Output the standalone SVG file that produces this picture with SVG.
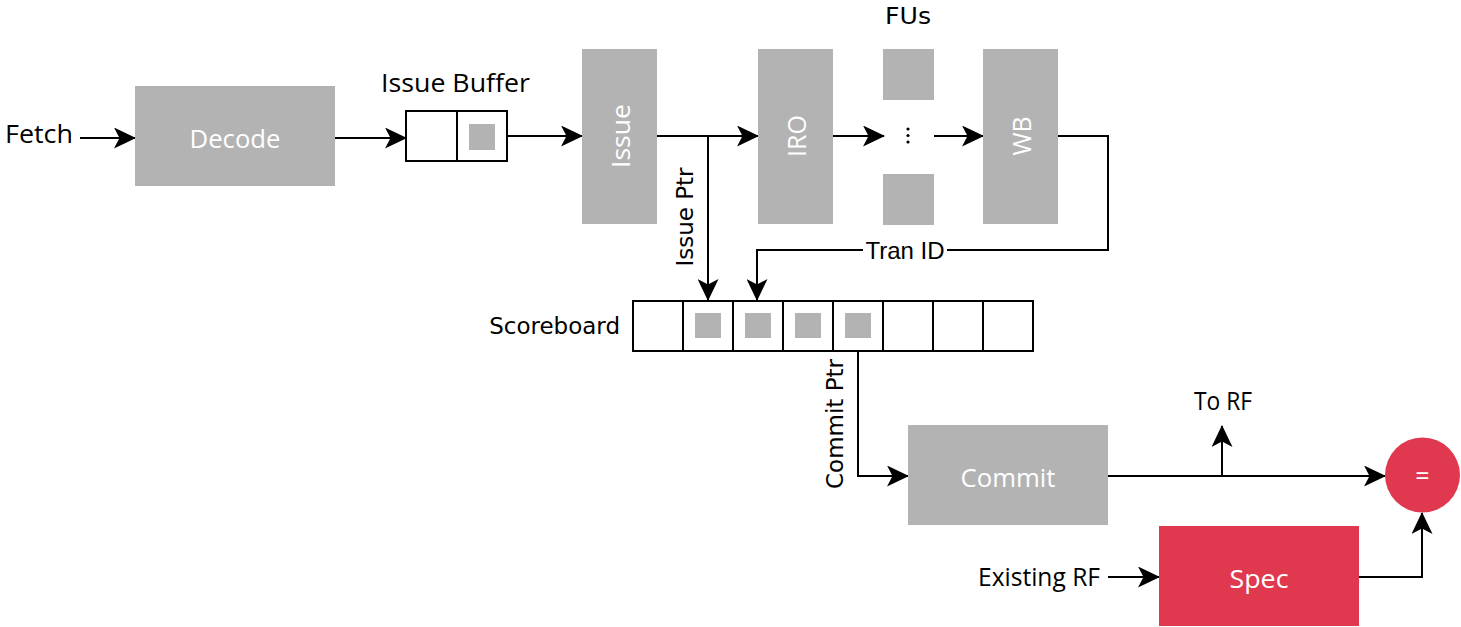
<svg xmlns="http://www.w3.org/2000/svg" width="1461" height="627" viewBox="0 0 1461 627">
  <style>
    .blk { fill: #b3b3b3; }
    .red { fill: #e0394f; }
    .cell { fill: #ffffff; stroke: #000000; stroke-width: 2; }
    .dot { fill: #b3b3b3; }
    .wire { fill: none; stroke: #000000; stroke-width: 2; }
    .lbl { font-family: "Open Sans", "Liberation Sans", sans-serif; font-size: 25px; fill: #000000; }
    .in { font-family: "Open Sans", "Liberation Sans", sans-serif; font-size: 25px; fill: #ffffff; text-anchor: middle; dominant-baseline: central; }
    .dv { font-family: "DejaVu Sans", sans-serif; font-size: 23px; fill: #000000; }
    .ar { font-family: "Liberation Sans", Arial, sans-serif; font-size: 24px; fill: #000000; }
  </style>
  <defs>
    <marker id="arrow" viewBox="0 0 22 21" refX="21" refY="10.5" markerWidth="22" markerHeight="21" markerUnits="userSpaceOnUse" orient="auto">
      <path d="M0,0 L22,10.5 L0,21 L5.5,10.5 Z" fill="#000000"/>
    </marker>
  </defs>

  <!-- connectors -->
  <g id="connectors">
    <path class="wire" d="M80,138 H135" marker-end="url(#arrow)"/>
    <path class="wire" d="M335,138 H406" marker-end="url(#arrow)"/>
    <path class="wire" d="M507,136 H582" marker-end="url(#arrow)"/>
    <path class="wire" d="M657,136 H758" marker-end="url(#arrow)"/>
    <path class="wire" d="M708,136 V300" marker-end="url(#arrow)"/>
    <path class="wire" d="M833,136 H884" marker-end="url(#arrow)"/>
    <path class="wire" d="M934,136 H983" marker-end="url(#arrow)"/>
    <path class="wire" d="M1058,136 H1108 V250 H757 V300" marker-end="url(#arrow)"/>
    <path class="wire" d="M858,351 V476 H908" marker-end="url(#arrow)"/>
    <path class="wire" d="M1108,476 H1385" marker-end="url(#arrow)"/>
    <path class="wire" d="M1222,476 V426" marker-end="url(#arrow)"/>
    <path class="wire" d="M1108,577 H1159" marker-end="url(#arrow)"/>
    <path class="wire" d="M1359,577 H1422 V513" marker-end="url(#arrow)"/>
    <!-- connector labels -->
    <rect x="863" y="237" width="84" height="27" fill="#ffffff"/>
    <text class="ar" x="905" y="259" text-anchor="middle">Tran ID</text>
    <text class="dv" transform="translate(693,217) rotate(-90)" text-anchor="middle">Issue Ptr</text>
    <text class="dv" transform="translate(843,424) rotate(-90)" text-anchor="middle">Commit Ptr</text>
    <text class="lbl" x="1194" y="410" font-size="26" textLength="58" lengthAdjust="spacingAndGlyphs">To RF</text>
  </g>

  <text class="lbl" x="5" y="143" textLength="68" lengthAdjust="spacingAndGlyphs">Fetch</text>
  <text class="lbl" x="978" y="586" textLength="122" lengthAdjust="spacingAndGlyphs">Existing RF</text>

  <g id="decode">
    <rect class="blk" x="135" y="86" width="200" height="100"/>
    <text class="in" x="235" y="138" textLength="91" lengthAdjust="spacingAndGlyphs">Decode</text>
  </g>

  <g id="issue-buffer">
    <text class="lbl" x="381" y="92" textLength="149" lengthAdjust="spacingAndGlyphs">Issue Buffer</text>
    <rect class="cell" x="406" y="111" width="51" height="50"/>
    <rect class="cell" x="457" y="111" width="50" height="50"/>
    <rect class="dot" x="469" y="124" width="26" height="26"/>
  </g>

  <g id="issue">
    <rect class="blk" x="582" y="49" width="75" height="175"/>
    <text class="in" transform="translate(619.5,136) rotate(-90)" textLength="64" lengthAdjust="spacingAndGlyphs">Issue</text>
  </g>

  <g id="iro">
    <rect class="blk" x="758" y="49" width="75" height="175"/>
    <text class="in" transform="translate(795.5,136) rotate(-90)">IRO</text>
  </g>

  <g id="fus">
    <text class="dv" x="885" y="24" font-size="26" textLength="46" lengthAdjust="spacingAndGlyphs">FUs</text>
    <rect class="blk" x="883" y="49" width="51" height="51"/>
    <rect class="blk" x="883" y="174" width="51" height="51"/>
    <circle cx="908" cy="129" r="1.6" fill="#000000"/>
    <circle cx="908" cy="135.5" r="1.6" fill="#000000"/>
    <circle cx="908" cy="142" r="1.6" fill="#000000"/>
  </g>

  <g id="wb">
    <rect class="blk" x="983" y="49" width="75" height="175"/>
    <text class="in" transform="translate(1020.5,136) rotate(-90)">WB</text>
  </g>

  <g id="scoreboard">
    <text class="dv" x="620" y="334" text-anchor="end">Scoreboard</text>
    <rect class="cell" x="633" y="301" width="50" height="50"/>
    <rect class="cell" x="683" y="301" width="50" height="50"/>
    <rect class="cell" x="733" y="301" width="50" height="50"/>
    <rect class="cell" x="783" y="301" width="50" height="50"/>
    <rect class="cell" x="833" y="301" width="50" height="50"/>
    <rect class="cell" x="883" y="301" width="50" height="50"/>
    <rect class="cell" x="933" y="301" width="50" height="50"/>
    <rect class="cell" x="983" y="301" width="50" height="50"/>
    <rect class="dot" x="695" y="313" width="26" height="25"/>
    <rect class="dot" x="745" y="313" width="26" height="25"/>
    <rect class="dot" x="795" y="313" width="26" height="25"/>
    <rect class="dot" x="845" y="313" width="26" height="25"/>
  </g>

  <g id="commit">
    <rect class="blk" x="908" y="425" width="200" height="100"/>
    <text class="in" x="1008" y="477" textLength="95" lengthAdjust="spacingAndGlyphs">Commit</text>
  </g>

  <g id="compare">
    <circle class="red" cx="1422.5" cy="475" r="37.5"/>
    <text class="in" x="1422.5" y="475" font-size="22">=</text>
  </g>

  <g id="spec">
    <rect class="red" x="1159" y="526" width="200" height="100"/>
    <text class="in" x="1259" y="578" textLength="59" lengthAdjust="spacingAndGlyphs">Spec</text>
  </g>
</svg>
